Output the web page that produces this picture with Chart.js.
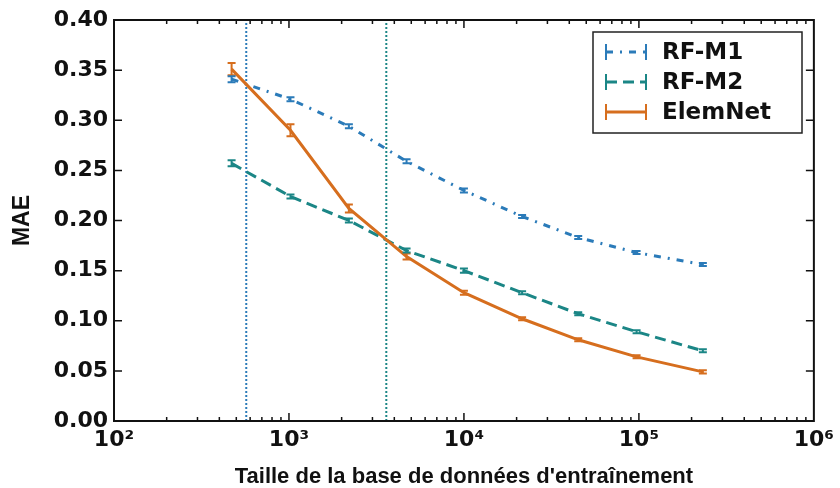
<!DOCTYPE html>
<html>
<head>
<meta charset="utf-8">
<script src="https://cdn.jsdelivr.net/npm/chart.js@4.4.1/dist/chart.umd.min.js"></script>
<style>
  body { margin: 0; background: #fff; }
  #wrap { width: 840px; height: 488px; }
</style>
</head>
<body>
<div id="wrap"><canvas id="maeChart" width="840" height="488"></canvas></div>
<script>
// training set sizes (x) and MAE values
let trainSizes = [470, 1020, 2200, 4700, 10000, 21500, 45000, 97000, 232000];
let rfM1 = [0.341, 0.321, 0.294, 0.259, 0.230, 0.204, 0.183, 0.168, 0.156];
let rfM2 = [0.257, 0.224, 0.200, 0.170, 0.150, 0.128, 0.107, 0.089, 0.070];
let elemNet = [0.351, 0.290, 0.212, 0.164, 0.128, 0.102, 0.081, 0.064, 0.049];
let rfM1Err = [0.003, 0.002, 0.002, 0.002, 0.002, 0.0015, 0.0015, 0.0015, 0.0015];
let rfM2Err = [0.003, 0.002, 0.002, 0.002, 0.002, 0.0015, 0.0015, 0.0015, 0.0015];
let elemNetErr = [0.006, 0.006, 0.004, 0.003, 0.002, 0.0015, 0.0015, 0.0015, 0.0015];
let seriesNames = ['RF-M1', 'RF-M2', 'ElemNet'];
let cutoffs = [570, 3600];
let xTickLabels = ['10²', '10³', '10⁴', '10⁵', '10⁶'];
let yTickLabels = ['0.00', '0.05', '0.10', '0.15', '0.20', '0.25', '0.30', '0.35', '0.40'];

const BLUE = '#2b7bb9';
const TEAL = '#1b8686';
const ORANGE = '#d66e1e';
const tickFont = { family: 'DejaVu Sans', weight: 'bold', size: 22 };

const toPoints = (xs, ys) => xs.map((x, i) => ({ x: x, y: ys[i] }));

const series = [
    { label: seriesNames[2], data: elemNet, err: elemNetErr, color: ORANGE, dash: [] },
    { label: seriesNames[0], data: rfM1, err: rfM1Err, color: BLUE, dash: [7, 7, 2, 7] },
    { label: seriesNames[1], data: rfM2, err: rfM2Err, color: TEAL, dash: [11, 6] }
];

let datasets = series.map(s => ({
    label: s.label,
    data: toPoints(trainSizes, s.data),
    borderColor: s.color,
    backgroundColor: s.color,
    borderWidth: 3,
    borderDash: s.dash,
    pointRadius: 0,
    tension: 0,
    errors: s.err
}));

[BLUE, TEAL].forEach((c, i) => {
    datasets.push({
        label: 'cut' + i,
        data: [{ x: cutoffs[i], y: 0 }, { x: cutoffs[i], y: 0.4 }],
        borderColor: c,
        borderWidth: 2,
        borderDash: [2, 2],
        pointRadius: 0
    });
});

const errorBars = {
    id: 'errorBars',
    afterDatasetsDraw(chart) {
        let ctx = chart.ctx;
        let xs = chart.scales.x, ys = chart.scales.y;
        ctx.save();
        chart.data.datasets.forEach(ds => {
            if (!ds.errors) return;
            ctx.strokeStyle = ds.borderColor;
            ctx.lineWidth = 2;
            ds.data.forEach((p, i) => {
                let px = xs.getPixelForValue(p.x);
                let top = ys.getPixelForValue(p.y + ds.errors[i]);
                let bot = ys.getPixelForValue(p.y - ds.errors[i]);
                ctx.beginPath();
                ctx.moveTo(px, top); ctx.lineTo(px, bot);
                ctx.moveTo(px - 4, top); ctx.lineTo(px + 4, top);
                ctx.moveTo(px - 4, bot); ctx.lineTo(px + 4, bot);
                ctx.stroke();
            });
        });
        ctx.restore();
    }
};

const frameAndTicks = {
    id: 'frameAndTicks',
    afterDraw(chart) {
        let ctx = chart.ctx;
        let a = chart.chartArea;
        let xs = chart.scales.x, ys = chart.scales.y;
        ctx.save();
        ctx.strokeStyle = '#111';
        ctx.lineWidth = 1.5;
        ctx.beginPath();
        for (let d = 2; d <= 5; d++) {
            for (let m = 1; m <= 9; m++) {
                let px = xs.getPixelForValue(m * Math.pow(10, d));
                let len = m === 1 ? 8 : 4;
                ctx.moveTo(px, a.bottom); ctx.lineTo(px, a.bottom - len);
                ctx.moveTo(px, a.top); ctx.lineTo(px, a.top + len);
            }
        }
        for (let k = 0; k < yTickLabels.length; k++) {
            let py = ys.getPixelForValue(k * 0.05);
            ctx.moveTo(a.left, py); ctx.lineTo(a.left + 8, py);
            ctx.moveTo(a.right, py); ctx.lineTo(a.right - 8, py);
        }
        ctx.stroke();
        ctx.lineWidth = 2;
        ctx.strokeRect(a.left, a.top, a.right - a.left, a.bottom - a.top);
        ctx.restore();
    }
};

const boxLegend = {
    id: 'boxLegend',
    afterDraw(chart) {
        let ctx = chart.ctx;
        let bx = 593, by = 32, bw = 209, bh = 101;
        ctx.save();
        ctx.fillStyle = '#fff';
        ctx.fillRect(bx, by, bw, bh);
        ctx.strokeStyle = '#222';
        ctx.lineWidth = 1.5;
        ctx.strokeRect(bx, by, bw, bh);
        let entries = [series[1], series[2], series[0]];
        entries.forEach((s, i) => {
            let cy = 52 + i * 30;
            ctx.strokeStyle = s.color;
            ctx.lineWidth = 3;
            ctx.setLineDash(s.dash);
            ctx.beginPath();
            ctx.moveTo(606, cy); ctx.lineTo(646, cy);
            ctx.stroke();
            ctx.setLineDash([]);
            ctx.lineWidth = 2;
            ctx.beginPath();
            ctx.moveTo(606, cy - 8); ctx.lineTo(606, cy + 8);
            ctx.moveTo(646, cy - 8); ctx.lineTo(646, cy + 8);
            ctx.stroke();
            ctx.fillStyle = '#111';
            ctx.font = 'bold 23px "DejaVu Sans"';
            ctx.textBaseline = 'middle';
            ctx.fillText(s.label, 662, cy + 1);
        });
        ctx.restore();
    }
};

let ctx = document.getElementById('maeChart').getContext('2d');
let chart = new Chart(ctx, {
    type: 'line',
    data: { datasets: datasets },
    options: {
        responsive: false,
        animation: false,
        layout: { padding: { left: 0, top: 20, right: 25, bottom: 0 } },
        plugins: { legend: { display: false }, tooltip: { enabled: false } },
        scales: {
            x: {
                type: 'logarithmic',
                min: 100,
                max: 1000000,
                grid: { display: false, drawTicks: false },
                border: { display: false },
                afterFit: s => { s.height = 67; },
                ticks: {
                    autoSkip: false,
                    maxRotation: 0,
                    padding: 6,
                    color: '#111',
                    font: tickFont,
                    callback: v => {
                        let l = Math.log10(v);
                        if (Math.abs(l - Math.round(l)) > 1e-6) return '';
                        return xTickLabels[Math.round(l) - 2];
                    }
                },
                title: {
                    display: true,
                    text: "Taille de la base de données d'entraînement",
                    color: '#111',
                    font: { family: 'Liberation Sans', weight: 'bold', size: 22, lineHeight: 1 },
                    padding: { top: 0, bottom: 0 }
                }
            },
            y: {
                min: 0,
                max: 0.4,
                grid: { display: false, drawTicks: false },
                border: { display: false },
                afterFit: s => { s.width = 114; },
                ticks: {
                    stepSize: 0.05,
                    padding: 6,
                    color: '#111',
                    font: tickFont,
                    callback: (v, i) => yTickLabels[Math.round(v / 0.05)]
                },
                title: {
                    display: true,
                    text: 'MAE',
                    color: '#111',
                    font: { family: 'Liberation Sans', weight: 'bold', size: 23, lineHeight: 1 },
                    padding: { top: 11, bottom: 0 }
                }
            }
        }
    },
    plugins: [errorBars, frameAndTicks, boxLegend]
});
</script>
</body>
</html>
